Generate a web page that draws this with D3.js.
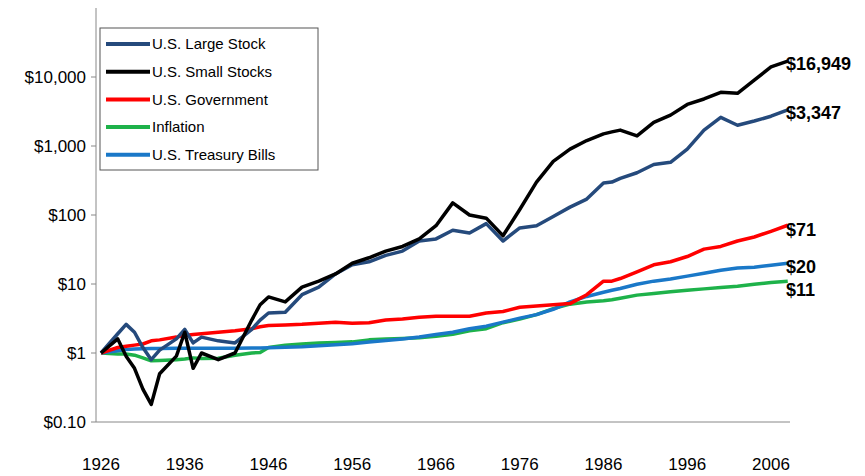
<!DOCTYPE html>
<html><head><meta charset="utf-8">
<script src="https://cdn.jsdelivr.net/npm/d3@7"></script>
<style>body{margin:0;background:#fff}svg{font-family:"Liberation Sans",Arial,sans-serif}</style>
</head><body><svg id="chart" width="865" height="476"></svg>
<script>
const years = [1926,1928,1929,1930,1931,1932,1933,1935,1936,1937,1938,1940,1942,1944,1945,1946,1948,1950,1952,1954,1956,1958,1960,1962,1964,1966,1968,1970,1972,1974,1976,1978,1980,1982,1984,1986,1987,1988,1990,1992,1994,1996,1998,2000,2002,2004,2006,2008];
const largeStock = [1,1.9,2.6,2.0,1.2,0.8,1.1,1.6,2.2,1.4,1.7,1.5,1.4,2.2,3.0,3.8,3.9,7,9,14,19,21,26,30,42,45,60,55,75,42,65,70,95,130,170,290,300,340,410,540,580,900,1700,2600,2000,2300,2700,3347];
const smallStocks = [1,1.6,0.9,0.6,0.3,0.18,0.5,0.9,2.0,0.6,1.0,0.8,1.0,3.0,5.0,6.5,5.5,9,11,14,20,24,30,35,45,70,150,100,90,50,120,300,600,900,1200,1500,1600,1700,1400,2200,2800,4000,4800,6000,5800,9000,14000,16949];
const government = [1,1.2,1.25,1.3,1.35,1.5,1.55,1.7,1.8,1.85,1.9,2.0,2.1,2.25,2.4,2.5,2.55,2.6,2.7,2.8,2.7,2.75,3.0,3.1,3.3,3.4,3.4,3.4,3.8,4.0,4.6,4.8,5.0,5.2,7.0,11,11,12,15,19,21,25,32,35,42,48,58,71];
const inflation = [1,0.97,0.97,0.93,0.85,0.77,0.78,0.8,0.82,0.85,0.83,0.84,0.93,1.0,1.02,1.2,1.3,1.35,1.4,1.42,1.45,1.55,1.6,1.62,1.66,1.75,1.87,2.1,2.25,2.75,3.1,3.6,4.4,5.1,5.5,5.7,5.9,6.2,6.9,7.3,7.7,8.1,8.5,8.9,9.3,9.9,10.5,11];
const bills = [1,1.08,1.12,1.14,1.15,1.16,1.16,1.17,1.17,1.17,1.17,1.17,1.17,1.18,1.18,1.19,1.21,1.23,1.27,1.32,1.36,1.44,1.52,1.6,1.7,1.85,2.0,2.25,2.45,2.8,3.2,3.6,4.3,5.5,6.6,7.6,8.1,8.6,9.9,11,11.8,13,14.3,15.8,17,17.5,18.7,20];
const seriesNames = ["U.S. Large Stock","U.S. Small Stocks","U.S. Government","Inflation","U.S. Treasury Bills"];
const seriesColors = ["#254a7c","#000000","#ff0000","#1eb24a","#1a78c8"];
const seriesValues = [largeStock, smallStocks, government, inflation, bills];
const endLabels = ["$3,347","$16,949","$71","$11","$20"];
const endLabelY = [119,70,236,296,273];
const yTicks = [0.1,1,10,100,1000,10000];
const yTickLabels = ["$0.10","$1","$10","$100","$1,000","$10,000"];
const xTicks = [1926,1936,1946,1956,1966,1976,1986,1996,2006];

const svg = d3.select("#chart");
const x = d3.scaleLinear().domain([1926,2006]).range([101,771]);
const y = d3.scaleLog().domain([0.1,10000]).range([422,77]);

svg.append("line").attr("x1",96).attr("x2",96).attr("y1",8).attr("y2",422).attr("stroke","#888");
svg.append("line").attr("x1",96).attr("x2",790).attr("y1",422).attr("y2",422).attr("stroke","#888");
yTicks.forEach((t,i)=>{
  svg.append("line").attr("x1",91).attr("x2",96).attr("y1",y(t)).attr("y2",y(t)).attr("stroke","#888");
  svg.append("text").attr("x",86).attr("y",y(t)).attr("dy","0.35em").attr("text-anchor","end")
    .attr("font-size",17).text(yTickLabels[i]);
});
xTicks.forEach(t=>{
  svg.append("text").attr("x",x(t)).attr("y",470).attr("text-anchor","middle").attr("font-size",17).text(t);
});

const line = d3.line().x((d,i)=>x(years[i])).y(d=>y(d)).curve(d3.curveLinear);
[3,4,2,0,1].forEach(k=>{
  svg.append("path").datum(seriesValues[k]).attr("d",line).attr("fill","none")
    .attr("stroke",seriesColors[k]).attr("stroke-width",3.5).attr("stroke-linejoin","round");
});
endLabels.forEach((l,i)=>{
  svg.append("text").attr("x",786).attr("y",endLabelY[i]).attr("font-size",18).attr("font-weight","bold").text(l);
});

const lg = svg.append("g");
lg.append("rect").attr("x",100).attr("y",28).attr("width",218).attr("height",142).attr("fill","#fff").attr("stroke","#555");
seriesNames.forEach((n,i)=>{
  const yy = 44 + i*27.7;
  lg.append("line").attr("x1",106).attr("x2",150).attr("y1",yy).attr("y2",yy).attr("stroke",seriesColors[i]).attr("stroke-width",4);
  lg.append("text").attr("x",152).attr("y",yy).attr("dy","0.35em").attr("font-size",15).text(n);
});
</script></body></html>
